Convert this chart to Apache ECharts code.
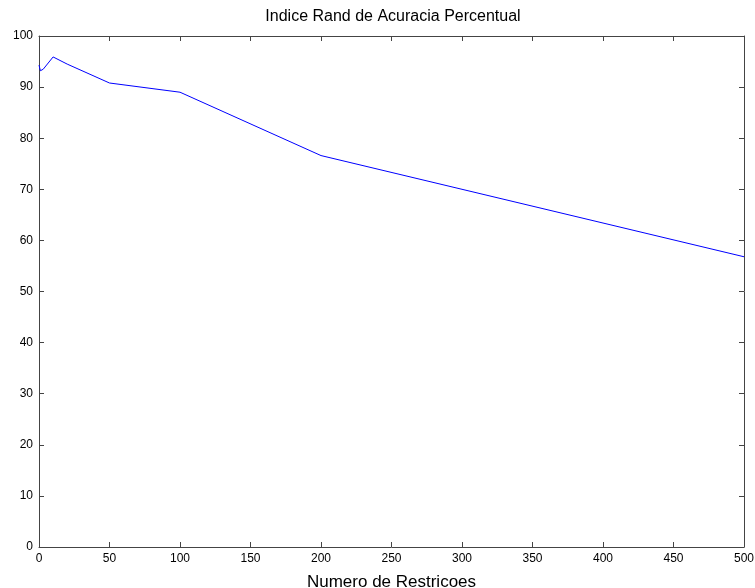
<!DOCTYPE html>
<html>
<head>
<meta charset="utf-8">
<script src="https://cdn.jsdelivr.net/npm/echarts@6/dist/echarts.min.js"></script>
<style>
  html, body { margin: 0; padding: 0; background: #fff; }
  #chart { width: 755px; height: 588px; }
</style>
</head>
<body>
<div id="chart"></div>
<script>
// Numero de restricoes (eixo x) e indice Rand (eixo y)
const restricoes = [0, 1, 3, 10, 20, 50, 100, 200, 500];
const indiceRand = [94.3, 93.2, 93.5, 95.9, 94.5, 90.8, 89.0, 76.6, 56.8];

const tituloGrafico = 'Indice Rand de Acuracia Percentual';
const tituloEixoX = 'Numero de Restricoes';

const chart = echarts.init(document.getElementById('chart'));

const corEixo = '#444';
const fonte = 'Liberation Sans, Arial, sans-serif';

// Eixo com ticks internos, como no MATLAB
const eixoBase = {
    type: 'value',
    axisLine: { show: true, onZero: false, lineStyle: { color: corEixo, width: 1 } },
    axisTick: { show: true, inside: true, length: 5, lineStyle: { color: corEixo } },
    splitLine: { show: false }
};

const option = {
    animation: false,
    backgroundColor: '#fff',
    title: {
        text: tituloGrafico,
        left: 388, top: 4, textAlign: 'center',
        textStyle: { fontFamily: fonte, fontSize: 16, fontWeight: 'normal', color: '#000' }
    },
    // sem ajuste automatico da area do grafico (o rotulo do eixo x fica cortado embaixo)
    grid: { left: 39, right: 11, top: 36, bottom: 41, containLabel: false, outerBoundsMode: 'none' },
    xAxis: [
        Object.assign({}, eixoBase, {
            position: 'bottom', min: 0, max: 500, interval: 50,
            name: tituloEixoX, nameLocation: 'middle', nameGap: 27,
            nameTextStyle: { fontFamily: fonte, fontSize: 17, color: '#000', verticalAlign: 'top' },
            axisLabel: { fontFamily: fonte, fontSize: 12, color: '#000', margin: 6 }
        }),
        Object.assign({}, eixoBase, {
            position: 'top', min: 0, max: 500, interval: 50,
            axisLabel: { show: false }
        })
    ],
    yAxis: [
        Object.assign({}, eixoBase, {
            position: 'left', min: 0, max: 100, interval: 10,
            axisLabel: { fontFamily: fonte, fontSize: 12, color: '#000', margin: 6 }
        }),
        Object.assign({}, eixoBase, {
            position: 'right', min: 0, max: 100, interval: 10,
            axisLabel: { show: false }
        })
    ],
    series: [{
        type: 'line',
        data: restricoes.map((x, i) => [x, indiceRand[i]]),
        showSymbol: false,
        lineStyle: { color: '#0000ff', width: 1 },
        itemStyle: { color: '#0000ff' }
    }]
};

chart.setOption(option);
</script>
</body>
</html>
